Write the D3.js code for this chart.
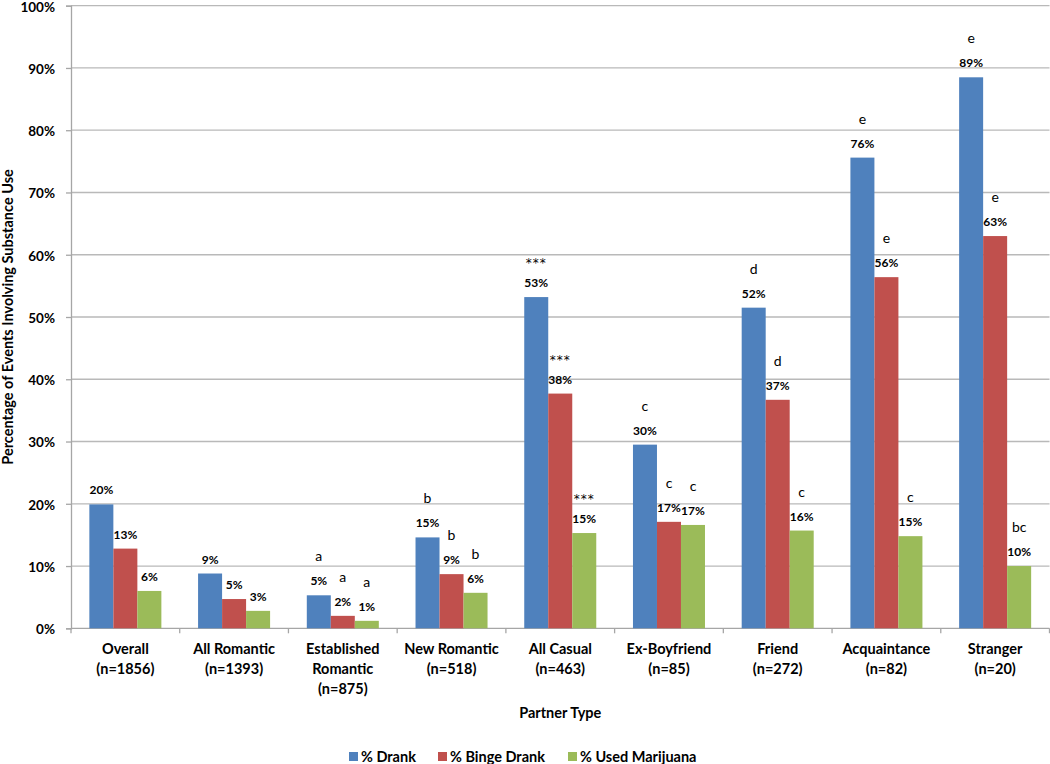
<!DOCTYPE html>
<html>
<head>
<meta charset="utf-8">
<script src="https://cdn.jsdelivr.net/npm/d3@7"></script>
<style>
  body { margin: 0; background: #fff; }
  text { font-family: Lato, "Open Sans", sans-serif; fill: #000; }
</style>
</head>
<body>
<div id="main"></div>
<script>
// data
const categories = [
  ['Overall', '(n=1856)'],
  ['All Romantic', '(n=1393)'],
  ['Established', 'Romantic', '(n=875)'],
  ['New Romantic', '(n=518)'],
  ['All Casual', '(n=463)'],
  ['Ex-Boyfriend', '(n=85)'],
  ['Friend', '(n=272)'],
  ['Acquaintance', '(n=82)'],
  ['Stranger', '(n=20)']
];
const seriesNames = ['% Drank', '% Binge Drank', '% Used Marijuana'];
const drank = [19.9, 8.8, 5.3, 14.6, 53.2, 29.5, 51.5, 75.6, 88.5];
const binge = [12.8, 4.7, 2.0, 8.7, 37.7, 17.1, 36.7, 56.4, 63.0];
const marijuana = [6.0, 2.8, 1.2, 5.7, 15.3, 16.6, 15.7, 14.8, 10.0];
const drankMarks = ['', '', 'a', 'b', '***', 'c', 'd', 'e', 'e'];
const bingeMarks = ['', '', 'a', 'b', '***', 'c', 'd', 'e', 'e'];
const marijuanaMarks = ['', '', 'a', 'b', '***', 'c', 'c', 'c', 'bc'];
const yTicks = [0, 10, 20, 30, 40, 50, 60, 70, 80, 90, 100];
const colors = ['#4F81BD', '#C0504D', '#9BBB59'];

const width = 1050, height = 764;
const plotLeft = 71, plotRight = 1049.5, plotTop = 5.7, plotBottom = 628.3;

const svg = d3.select('#main').append('svg')
    .attr('width', width)
    .attr('height', height);

svg.append('rect').attr('width', width).attr('height', height).attr('fill', '#fff');

const keys = categories.map((c, i) => i);
const x0 = d3.scaleBand().domain(keys).range([plotLeft, plotRight])
    .paddingInner(0.3376).paddingOuter(0.3376 / 2);
const x1 = d3.scaleBand().domain([0, 1, 2]).range([0, x0.bandwidth()]);
const y = d3.scaleLinear().domain([0, 100]).range([plotBottom, plotTop]);

// gridlines
svg.append('g')
  .selectAll('line')
  .data(yTicks.filter(d => d > 0))
  .join('line')
    .attr('x1', plotLeft).attr('x2', plotRight)
    .attr('y1', d => y(d)).attr('y2', d => y(d))
    .attr('stroke', '#b9b9b9')
    .attr('stroke-width', 1.3);

// y axis
const yAxis = svg.append('g')
    .attr('transform', `translate(${plotLeft},0)`)
    .call(d3.axisLeft(y).tickValues(yTicks).tickFormat(d => d + '%').tickSize(5).tickPadding(11));
yAxis.select('.domain').attr('stroke', '#a6a6a6').attr('stroke-width', 1.3);
yAxis.selectAll('.tick line').attr('stroke', '#a6a6a6').attr('stroke-width', 1.3);
yAxis.selectAll('.tick text')
    .style('font-family', 'Lato, sans-serif')
    .style('font-size', '13.5px')
    .style('font-weight', 'bold')
    .attr('dy', '0.4em')
    .attr('fill', '#000');

// x axis (ticks between categories)
const boundaries = d3.range(categories.length + 1).map(i => plotLeft + i * (plotRight - plotLeft) / categories.length);
svg.append('line')
    .attr('x1', plotLeft).attr('x2', plotRight)
    .attr('y1', plotBottom).attr('y2', plotBottom)
    .attr('stroke', '#a6a6a6').attr('stroke-width', 1.3);
svg.append('g').selectAll('line')
  .data(boundaries)
  .join('line')
    .attr('x1', d => d).attr('x2', d => d)
    .attr('y1', plotBottom).attr('y2', plotBottom + 5)
    .attr('stroke', '#a6a6a6').attr('stroke-width', 1.3);

// bars
const series = [drank, binge, marijuana];
const marks = [drankMarks, bingeMarks, marijuanaMarks];
const barData = [];
keys.forEach(i => {
  series.forEach((s, j) => {
    barData.push({ cat: i, s: j, v: s[i], mark: marks[j][i] });
  });
});

svg.append('g').selectAll('rect')
  .data(barData)
  .join('rect')
    .attr('x', d => x0(d.cat) + x1(d.s))
    .attr('y', d => y(d.v))
    .attr('width', x1.bandwidth())
    .attr('height', d => y(0) - y(d.v))
    .attr('fill', d => colors[d.s]);

// value labels
svg.append('g').selectAll('text')
  .data(barData)
  .join('text')
    .attr('x', d => x0(d.cat) + x1(d.s) + x1.bandwidth() / 2)
    .attr('y', d => y(d.v) - 10)
    .attr('text-anchor', 'middle')
    .style('font-size', '12px')
    .style('font-weight', 'bold')
    .text(d => Math.round(d.v) + '%');

// significance letters
svg.append('g').selectAll('text')
  .data(barData.filter(d => d.mark))
  .join('text')
    .attr('x', d => x0(d.cat) + x1(d.s) + x1.bandwidth() / 2)
    .attr('y', d => y(d.v) - (d.mark === '***' ? 30 : 34))
    .attr('text-anchor', 'middle')
    .style('font-family', d => d.mark === '***' ? '"DejaVu Sans", sans-serif' : null)
    .style('font-size', d => d.mark === '***' ? '12px' : '14px')
    .style('letter-spacing', d => d.mark === '***' ? '1px' : null)
    .attr('fill', '#222')
    .text(d => d.mark);

// category labels
const catG = svg.append('g').selectAll('text')
  .data(categories)
  .join('text')
    .attr('x', (d, i) => x0(i) + x0.bandwidth() / 2)
    .attr('y', 654)
    .attr('text-anchor', 'middle')
    .style('font-size', '14.5px')
    .style('font-weight', 'bold');
catG.selectAll('tspan')
  .data(d => d)
  .join('tspan')
    .attr('x', function() { return d3.select(this.parentNode).attr('x'); })
    .attr('dy', (d, i) => i === 0 ? 0 : 20)
    .text(d => d);

// axis titles
svg.append('text')
    .attr('x', (plotLeft + plotRight) / 2)
    .attr('y', 718)
    .attr('text-anchor', 'middle')
    .style('font-size', '14.5px')
    .style('font-weight', 'bold')
    .text('Partner Type');

svg.append('text')
    .attr('transform', `translate(13,${(plotTop + plotBottom) / 2}) rotate(-90)`)
    .attr('text-anchor', 'middle')
    .style('font-size', '14.5px')
    .style('font-weight', 'bold')
    .text('Percentage of Events Involving Substance Use');

// legend
const legendX = [349, 438, 568];
const legend = svg.append('g').selectAll('g')
  .data(seriesNames)
  .join('g')
    .attr('transform', (d, i) => `translate(${legendX[i]},752)`);
legend.append('rect')
    .attr('width', 9).attr('height', 9)
    .attr('fill', (d, i) => colors[i]);
legend.append('text')
    .attr('x', 12).attr('y', 9.5)
    .style('font-size', '14.5px')
    .style('font-weight', 'bold')
    .text(d => d);
</script>
</body>
</html>
